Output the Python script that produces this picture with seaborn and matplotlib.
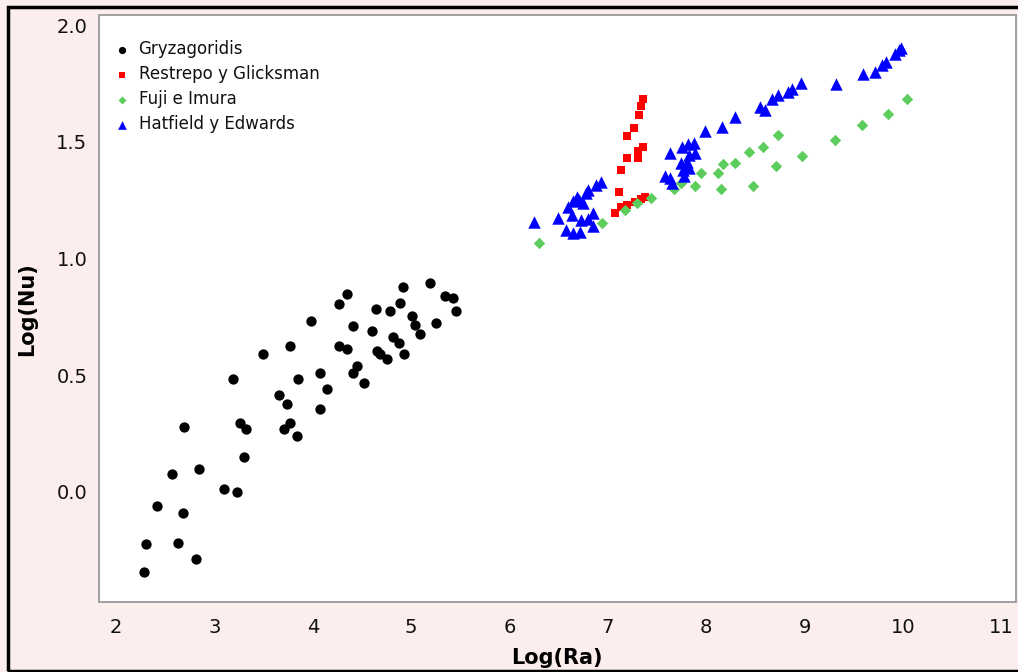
import matplotlib
matplotlib.use("Agg")
import matplotlib.pyplot as plt
import matplotlib.patches as mpatches
import seaborn as sns
import pandas as pd

# ---- data ----
series_names = ["Gryzagoridis", "Restrepo y Glicksman", "Fuji e Imura", "Hatfield y Edwards"]

gry_x = [2.284, 2.305, 2.413, 2.562, 2.629, 2.680, 2.690, 2.815, 2.846, 3.093,
         3.225, 3.191, 3.259, 3.320, 3.299, 3.490, 3.655, 3.733, 3.766, 3.766,
         3.708, 3.835, 3.845, 3.980, 4.071, 4.145, 4.071, 4.264, 4.348, 4.409,
         4.261, 4.348, 4.447, 4.406, 4.524, 4.602, 4.643, 4.779, 4.650, 4.687,
         4.751, 4.815, 4.873, 4.886, 4.914, 4.927, 5.008, 5.039, 5.094, 5.188,
         5.256, 5.340, 5.424, 5.452]
gry_y = [-0.341, -0.223, -0.060, 0.075, -0.217, -0.089, 0.277, -0.286, 0.097, 0.013,
         0.001, 0.483, 0.294, 0.268, 0.151, 0.591, 0.416, 0.377, 0.626, 0.294,
         0.268, 0.240, 0.483, 0.734, 0.511, 0.441, 0.356, 0.805, 0.848, 0.712,
         0.625, 0.614, 0.540, 0.511, 0.466, 0.690, 0.783, 0.777, 0.605, 0.591,
         0.568, 0.663, 0.637, 0.811, 0.879, 0.591, 0.755, 0.716, 0.677, 0.894,
         0.722, 0.840, 0.832, 0.775]

res_x = [7.360, 7.332, 7.313, 7.269, 7.195, 7.353, 7.303, 7.195, 7.310, 7.137,
         7.112, 7.071, 7.134, 7.191, 7.279, 7.337, 7.378]
res_y = [1.686, 1.656, 1.614, 1.561, 1.527, 1.478, 1.461, 1.431, 1.431, 1.380,
         1.284, 1.197, 1.219, 1.230, 1.244, 1.255, 1.262]

fuji_x = [6.297, 6.937, 7.171, 7.292, 7.439, 7.672, 7.743, 7.885, 7.942, 8.119,
          8.152, 8.170, 8.294, 8.437, 8.472, 8.574, 8.714, 8.734, 8.972, 9.310,
          9.587, 9.845, 10.038]
fuji_y = [1.066, 1.153, 1.208, 1.240, 1.261, 1.298, 1.324, 1.311, 1.368, 1.368,
          1.299, 1.405, 1.410, 1.455, 1.310, 1.478, 1.397, 1.530, 1.438, 1.508,
          1.572, 1.621, 1.685]

hat_x = [6.249, 6.497, 6.576, 6.643, 6.716, 6.635, 6.728, 6.795, 6.853, 6.853,
         6.592, 6.643, 6.711, 6.690, 6.782, 6.802, 6.883, 6.931, 6.751,
         7.584, 7.632, 7.652, 7.635, 7.753, 7.817, 7.878, 7.888, 7.820, 7.743,
         7.800, 7.820, 7.759, 7.777,
         7.985, 8.159, 8.289, 8.543, 8.594, 8.670, 8.734, 8.832, 8.873, 8.959,
         9.317, 9.594, 9.719, 9.790, 9.832, 9.919, 9.959, 9.985]
hat_y = [1.158, 1.173, 1.123, 1.108, 1.114, 1.187, 1.165, 1.168, 1.194, 1.140,
         1.223, 1.247, 1.251, 1.266, 1.280, 1.294, 1.315, 1.329, 1.238,
         1.354, 1.344, 1.323, 1.454, 1.479, 1.489, 1.497, 1.452, 1.444, 1.408,
         1.415, 1.387, 1.380, 1.354,
         1.548, 1.564, 1.605, 1.651, 1.637, 1.682, 1.701, 1.716, 1.728, 1.752,
         1.748, 1.790, 1.801, 1.829, 1.844, 1.877, 1.892, 1.902]

x_ticks = [2, 3, 4, 5, 6, 7, 8, 9, 10, 11]
y_ticks = [0.0, 0.5, 1.0, 1.5, 2.0]
y_tick_labels = ["0.0", "0.5", "1.0", "1.5", "2.0"]

# ---- styling ----
sns.set_style("white")
plt.rcParams["font.family"] = ["DejaVu Sans"]

colors = {"Gryzagoridis": "#000000", "Restrepo y Glicksman": "#ff0000",
          "Fuji e Imura": "#5ccd5c", "Hatfield y Edwards": "#0000ff"}
markers = {"Gryzagoridis": "o", "Restrepo y Glicksman": "s",
           "Fuji e Imura": "D", "Hatfield y Edwards": "^"}
msizes = {"Gryzagoridis": 55, "Restrepo y Glicksman": 38,
          "Fuji e Imura": 34, "Hatfield y Edwards": 80}

data = {
    "Gryzagoridis": (gry_x, gry_y),
    "Restrepo y Glicksman": (res_x, res_y),
    "Fuji e Imura": (fuji_x, fuji_y),
    "Hatfield y Edwards": (hat_x, hat_y),
}

fig = plt.figure(figsize=(10.18, 6.72), dpi=100, facecolor="#fdeeee")
ax = fig.add_axes([0.0968, 0.1037, 0.9012, 0.874])
ax.set_facecolor("white")

for name in series_names:
    xs, ys = data[name]
    df = pd.DataFrame({"x": xs, "y": ys})
    sns.scatterplot(data=df, x="x", y="y", ax=ax, color=colors[name],
                    marker=markers[name], s=msizes[name], linewidth=0,
                    label=name)

ax.set_xlim(1.82, 11.15)
ax.set_ylim(-0.473, 2.044)
ax.set_xticks(x_ticks)
ax.set_yticks(y_ticks)
ax.set_yticklabels(y_tick_labels)

for sp in ax.spines.values():
    sp.set_color("#a0a0a0")
    sp.set_linewidth(1.4)

ax.tick_params(axis="both", which="major", direction="out", length=5,
               width=1.2, color="#a0a0a0", labelsize=14, labelcolor="#111111")
ax.tick_params(axis="x", pad=6)
ax.tick_params(axis="y", pad=3)

ax.set_xlabel("Log(Ra)", fontsize=15, fontweight="bold", labelpad=8, color="black")
ax.set_ylabel("Log(Nu)", fontsize=15, fontweight="bold", labelpad=14, color="black")

leg = ax.legend(loc="upper left", bbox_to_anchor=(0.0, 0.98), frameon=False,
                fontsize=12, markerscale=0.7, handletextpad=0.4,
                labelspacing=0.42, handlelength=1.2, borderaxespad=0.4)
for t in leg.get_texts():
    t.set_color("#111111")

# outer black frame of the figure
fig.patches.append(mpatches.Rectangle((8 / 1018, 1 - 671 / 672), 1.05, (671 - 7) / 672,
                                      transform=fig.transFigure, fill=False,
                                      edgecolor="black", linewidth=2.5, zorder=10))

fig.savefig("out.png", dpi=100, facecolor=fig.get_facecolor())
